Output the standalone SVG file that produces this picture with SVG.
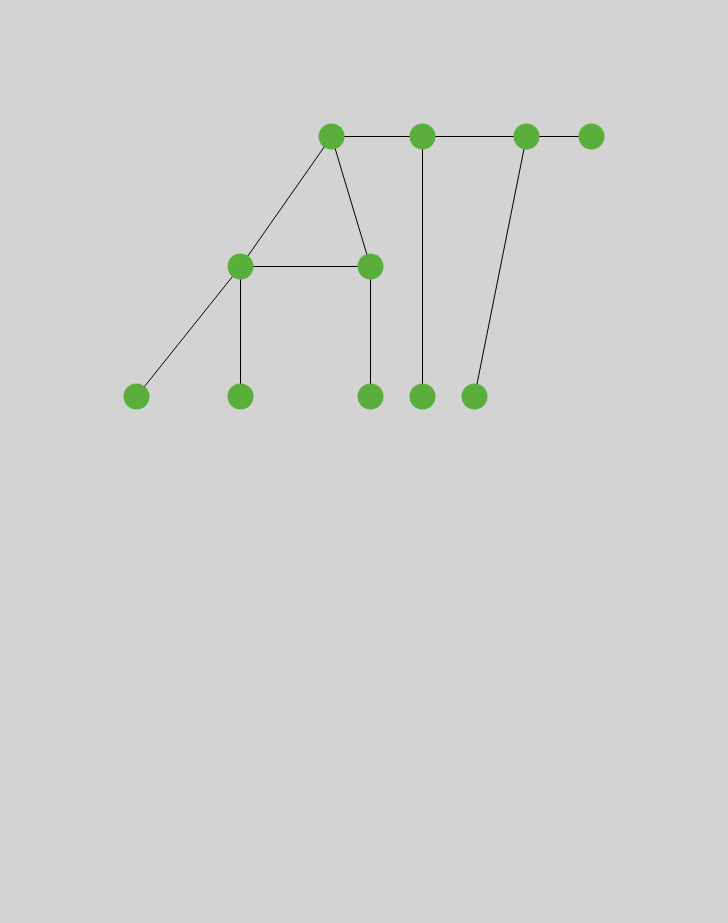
<svg xmlns="http://www.w3.org/2000/svg" width="728" height="923" viewBox="0 0 728 923">
<style>
.edge{stroke:#000;stroke-width:1;fill:none}
.node{fill:#5aaf3c}
</style>
<rect width="728" height="923" fill="#d3d3d3"/>
<g transform="translate(0.5,0.5)">
<g id="connectors">
<line class="edge" x1="331" y1="136" x2="422" y2="136"/>
<line class="edge" x1="422" y1="136" x2="526" y2="136"/>
<line class="edge" x1="526" y1="136" x2="591" y2="136"/>
<line class="edge" x1="331" y1="136" x2="240" y2="266"/>
<line class="edge" x1="331" y1="136" x2="370" y2="266"/>
<line class="edge" x1="240" y1="266" x2="370" y2="266"/>
<line class="edge" x1="240" y1="266" x2="136" y2="396"/>
<line class="edge" x1="240" y1="266" x2="240" y2="396"/>
<line class="edge" x1="370" y1="266" x2="370" y2="396"/>
<line class="edge" x1="422" y1="136" x2="422" y2="396"/>
<line class="edge" x1="526" y1="136" x2="474" y2="396"/>
</g>
<g id="n1"><circle class="node" cx="331" cy="136" r="13"/></g>
<g id="n2"><circle class="node" cx="422" cy="136" r="13"/></g>
<g id="n3"><circle class="node" cx="526" cy="136" r="13"/></g>
<g id="n4"><circle class="node" cx="591" cy="136" r="13"/></g>
<g id="n5"><circle class="node" cx="240" cy="266" r="13"/></g>
<g id="n6"><circle class="node" cx="370" cy="266" r="13"/></g>
<g id="n7"><circle class="node" cx="136" cy="396" r="13"/></g>
<g id="n8"><circle class="node" cx="240" cy="396" r="13"/></g>
<g id="n9"><circle class="node" cx="370" cy="396" r="13"/></g>
<g id="n10"><circle class="node" cx="422" cy="396" r="13"/></g>
<g id="n11"><circle class="node" cx="474" cy="396" r="13"/></g>
</g>
</svg>
